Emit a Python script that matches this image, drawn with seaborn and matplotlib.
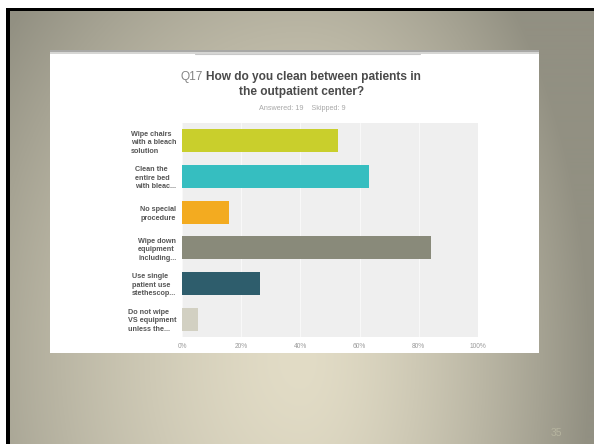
import numpy as np
import pandas as pd
import matplotlib
matplotlib.use("Agg")
import matplotlib.pyplot as plt
from matplotlib.patches import Rectangle
import seaborn as sns

# Survey answers (share of respondents, %)
categories = [
    "Wipe chairs\nwith a bleach\nsolution",
    "Clean the\nentire bed\nwith bleac...",
    "No special\nprocedure",
    "Wipe down\nequipment\nincluding...",
    "Use single\npatient use\nstethescop...",
    "Do not wipe\nVS equipment\nunless the...",
]
percent = [52.63, 63.16, 15.79, 84.21, 26.32, 5.26]
bar_colors = ["#c9cf2c", "#36bec0", "#f3ab20", "#898a7a", "#2e5d6c", "#d2d0c2"]
tick_values = [0, 20, 40, 60, 80, 100]
tick_labels = ["0%", "20%", "40%", "60%", "80%", "100%"]
question = "How do you clean between patients in"
question_2 = "the outpatient center?"
subtitle = "Answered: 19    Skipped: 9"

df = pd.DataFrame({"answer": categories, "pct": percent})

sns.set_theme(style="white")
plt.rcParams["font.family"] = ["Liberation Sans", "DejaVu Sans"]

W, H = 594, 444
fig = plt.figure(figsize=(W / 100, H / 100), dpi=100)

# Slide backdrop in pixel coordinates
bg = fig.add_axes([0, 0, 1, 1], zorder=0)
bg.set_xlim(0, W)
bg.set_ylim(H, 0)
bg.axis("off")
yy, xx = np.mgrid[0:H, 0:W]
cx = 300.0
sx = np.where(xx < cx, 380.0, 290.0)
d = np.sqrt(((xx - cx) / sx) ** 2 + ((yy - 360) / 520.0) ** 2)
t = np.clip(d, 0, 1) ** 1.5
center = np.array([226, 220, 198]) / 255.0
edge = np.array([146, 144, 130]) / 255.0
img = center[None, None, :] * (1 - t[..., None]) + edge[None, None, :] * t[..., None]
bg.imshow(img, extent=(0, W, H, 0), aspect="auto", zorder=0)

# White margin and black frame of the slide
bg.add_patch(Rectangle((0, 0), W, 8, color="white", zorder=1, lw=0))
bg.add_patch(Rectangle((0, 0), 6, H, color="white", zorder=1, lw=0))
bg.add_patch(Rectangle((6, 8), 3.5, H - 8, color="black", zorder=2, lw=0))
bg.add_patch(Rectangle((6, 8), W - 6, 3.5, color="black", zorder=2, lw=0))

# White chart panel
bg.add_patch(Rectangle((50, 50), 489, 303, color="white", zorder=3, lw=0))
bg.add_patch(Rectangle((50, 50), 489, 2.5, color="#a8a8a6", zorder=4, lw=0))
bg.add_patch(Rectangle((50, 52.5), 489, 1.5, color="#d6d6d4", zorder=4, lw=0))
bg.plot([195, 420], [54.5, 54.5], color="#c8c8c8", lw=0.8, zorder=4)

# Title: "Q17" in light weight, question text in bold
t1 = bg.text(313, 77, question, ha="center", va="center", fontsize=8.6,
             fontweight="bold", color="#4a4a4a", zorder=5)
fig.canvas.draw()
bb = t1.get_window_extent(fig.canvas.get_renderer())
fig.text((bb.x0 - 3) / W, 1 - 77 / H, "Q17", ha="right", va="center",
         fontsize=8.6, color="#858585", zorder=6)
bg.text(302, 92, question_2, ha="center", va="center", fontsize=8.6,
        fontweight="bold", color="#4a4a4a", zorder=5)
bg.text(302, 108, subtitle, ha="center", va="center", fontsize=5.2,
        color="#a8a8a8", zorder=5)

# Slide number
bg.text(556, 433, "35", ha="center", va="center", fontsize=7.5,
        color="#b6b49f", zorder=5)

# Bar chart
ax = fig.add_axes([182 / W, 1 - 337 / H, 296 / W, 214 / H], zorder=10)
ax.set_facecolor("#efefef")
sns.barplot(data=df, y="answer", x="pct", hue="answer", palette=bar_colors,
            legend=False, width=0.65, saturation=1, ax=ax, orient="h",
            edgecolor="none", zorder=3)
ax.set_xlim(0, 100)
ax.set_xticks(tick_values)
ax.set_xticklabels(tick_labels, fontsize=4.8, color="#9a9a9a")
ax.set_yticks(range(len(categories)))
ax.set_yticklabels(categories, fontsize=5.2, fontweight="bold",
                   color="#555555", linespacing=1.3, multialignment="left")
ax.tick_params(axis="x", length=0, pad=4)
ax.tick_params(axis="y", length=0, pad=4)
ax.set_xlabel("")
ax.set_ylabel("")
ax.grid(axis="x", color="#f8f8f8", lw=0.8, zorder=1)
for s in ax.spines.values():
    s.set_visible(False)

fig.savefig("out.png", dpi=100)
